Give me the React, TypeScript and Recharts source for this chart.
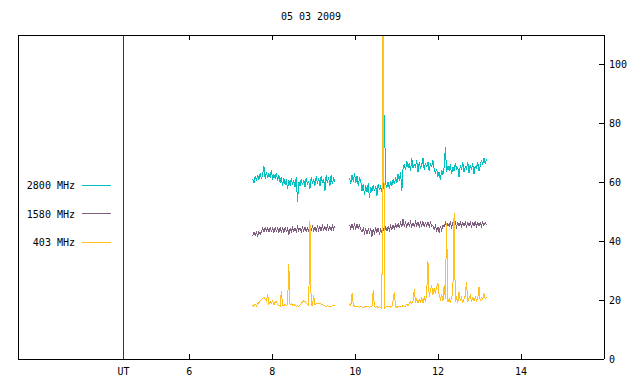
import { Legend, Line, LineChart, ReferenceLine, XAxis, YAxis } from "recharts";

const FONT = "'DejaVu Sans Mono', monospace";

// sampling of the two observing runs (UT hours)
const SAMPLE_STEP = 0.03;
const RUN1_START = 7.53;
const RUN2_START = 9.865;
const GAP_HOUR = 9.7;

const UT_HOUR = 4.414;
const xTicks = [UT_HOUR, 6, 8, 10, 12, 14];
const yTicks = [0, 20, 40, 60, 80, 100];
const seriesOrder = ["2800 MHz", "1580 MHz", "403 MHz"];

// 2800 MHz
const f2800Run1 = [
  61.2, 59.8, 62.0, 60.5, 62.4, 60.9, 63.1, 61.0, 62.8, 65.5,
  61.2, 63.6, 61.4, 63.0, 61.8, 64.0, 60.9, 62.7, 61.3, 63.2,
  60.4, 62.5, 59.8, 61.9, 58.7, 61.4, 59.2, 61.0, 57.6, 60.8,
  58.9, 61.3, 59.1, 60.6, 58.4, 61.7, 53.4, 60.2, 58.8, 61.1,
  59.0, 60.9, 58.3, 61.5, 59.4, 60.2, 57.9, 61.6, 59.6, 61.0,
  58.7, 62.0, 59.5, 61.4, 58.6, 62.1, 59.9, 61.2, 56.9, 62.3,
  59.7, 61.8, 58.8, 62.4, 59.3, 61.6, 60.1,
];
const f2800Run2 = [
  61.5, 59.4, 62.6, 60.1, 63.0, 59.8, 62.2, 58.6, 61.7, 60.4,
  57.2, 59.3, 55.8, 58.9, 56.6, 59.7, 54.6, 58.4, 56.9, 59.1,
  57.0, 58.8, 55.4, 59.5, 57.3, 58.6, 56.8, 57.9,
  83.0, 59.6, 58.2, 60.1, 57.6, 60.4, 58.9, 61.0, 59.3,
  61.6, 59.8, 62.9, 60.5, 63.4, 56.9, 64.8,
  66.2, 64.1, 67.3, 65.0, 66.4, 63.9, 68.1, 64.8, 66.0, 65.3,
  67.5, 63.6, 66.7, 64.9, 65.8, 68.3, 64.2, 66.6, 65.1, 67.0,
  63.8, 66.3, 65.4, 67.4, 64.5,
  62.8, 64.6, 61.9, 63.5, 60.7, 64.2, 62.6, 64.9,
  71.8,
  63.4, 65.6, 64.0, 66.2, 62.7, 65.3, 63.9, 66.5, 64.4, 65.0,
  61.8, 65.7, 64.1, 66.8, 63.5, 65.2, 64.6, 67.0, 63.2, 65.9,
  64.3, 66.4, 62.9, 65.5, 64.8, 66.9, 63.7,
  65.4, 67.6, 65.9, 68.2, 66.3, 67.8,
];

// 1580 MHz
const f1580Run1 = [
  41.8, 43.0, 42.0, 43.1, 41.9, 43.2, 42.3,
  43.3, 44.6, 43.2, 44.8, 43.5, 44.5, 43.1, 44.7, 43.4, 44.4, 43.0, 44.6, 43.3,
  44.4, 43.0, 44.6, 43.2, 44.5, 42.9, 44.7, 43.3, 44.4, 42.3,
  44.3, 43.1, 44.6, 43.4, 44.5, 43.2, 44.8, 43.5, 44.4, 43.1,
  44.6, 43.3, 44.9, 43.2, 44.4, 43.5, 44.8, 43.6, 45.0, 43.5,
  44.7, 43.3, 45.1, 43.7, 44.9, 43.4, 45.2, 43.8, 44.9, 43.6,
  45.3, 43.9, 45.0, 43.7, 45.4, 44.0, 45.1,
];
const f1580Run2 = [
  45.6, 44.2, 45.8, 44.3, 45.6, 44.1, 45.7, 44.4, 45.5, 43.9,
  43.0, 44.5, 42.8, 44.3, 42.5, 44.2, 42.9, 44.4, 41.6, 44.0,
  42.7, 44.3, 43.0, 44.5, 42.3, 44.1, 42.9, 44.4,
  43.2, 44.7, 43.5, 44.9, 43.7, 45.2, 43.9, 45.4, 44.2, 45.7,
  44.5, 45.9, 44.7,
  46.2, 44.8, 47.5, 45.0, 46.4, 44.9, 46.3, 45.1, 46.5, 44.8,
  46.2, 45.0, 46.6, 45.2, 46.4, 44.9, 46.3, 45.1, 46.7, 45.0,
  46.2, 45.2, 46.5, 44.8, 46.3, 45.1,
  45.3, 43.9, 45.2, 43.5, 44.9, 42.8, 45.0, 43.7, 45.4,
  44.9, 46.3, 44.7, 46.1, 45.0, 46.4, 44.8, 46.2, 45.1, 46.5,
  44.9, 46.3, 45.2, 46.6, 45.0, 46.2, 45.1, 46.4, 44.9, 46.3,
  45.2, 46.5, 45.0, 46.2, 45.3, 46.6, 45.1, 46.3, 45.2, 46.4,
  45.1, 46.5, 45.3, 46.3, 45.4,
];

// 403 MHz
const f403Run1 = [
  18.3, 17.9, 18.6, 18.1, 18.8,
  19.2, 19.8, 20.3, 20.6, 20.9, 20.4, 19.7, 22.0,
  18.6, 19.5, 18.9, 19.8, 18.4, 19.3, 19.6, 18.5, 18.2, 18.0,
  23.0,
  18.3, 18.1, 18.5, 18.2, 18.6,
  32.4,
  18.4, 18.7, 18.3, 18.5, 18.2, 17.9, 18.1, 17.8, 18.3, 18.9,
  19.4, 19.8, 19.5, 19.0, 18.6, 18.2,
  46.8,
  18.0, 18.3, 21.7, 18.4, 18.7, 18.9, 19.0, 18.8, 18.6, 18.4,
  18.2, 18.0, 17.9, 18.1, 17.8, 18.0, 17.9, 18.1, 18.0, 18.2,
];
const f403Run2 = [
  18.6, 18.2, 22.3,
  18.4, 18.0, 17.8, 17.7, 17.9, 17.6, 17.8, 17.7, 17.5, 17.8,
  17.6, 17.7, 17.9, 17.6, 17.8, 17.7,
  23.4,
  17.7, 17.6, 17.8, 17.5, 17.7, 17.6, 17.2,
  150,
  17.1, 17.6, 17.8, 17.7, 17.9, 17.6, 17.8, 20.0,
  22.7,
  17.8, 17.6, 17.7, 17.9, 17.7, 17.8, 18.3, 17.9, 18.0, 18.6,
  18.2, 18.9, 19.4, 18.8, 19.6,
  23.6,
  19.2, 20.4, 18.9, 20.1, 19.3, 20.6, 19.0, 21.2, 19.5,
  22.4, 33.2,
  21.0, 23.4, 25.0, 21.8, 23.9, 22.2, 24.6, 25.7, 21.5, 20.3,
  22.0, 19.6,
  25.0, 20.4, 46.2,
  19.3, 20.6, 19.1, 21.0, 22.3,
  49.7,
  19.4, 20.8, 19.2, 22.8, 19.6, 20.9, 19.0, 20.5, 21.4,
  26.2,
  19.5, 20.7, 21.7, 19.4, 20.8, 19.6, 21.1, 19.8, 20.6, 24.5,
  19.7, 20.9, 20.2, 22.3, 20.4, 21.0,
];

type Row = { t: number; f2800: number | null; f1580: number | null; f403: number | null };

function buildRows(): Row[] {
  const rows: Row[] = [];
  f2800Run1.forEach((v, i) => {
    rows.push({ t: RUN1_START + i * SAMPLE_STEP, f2800: v, f1580: f1580Run1[i], f403: f403Run1[i] });
  });
  // break the lines between the two runs
  rows.push({ t: GAP_HOUR, f2800: null, f1580: null, f403: null });
  f2800Run2.forEach((v, i) => {
    rows.push({ t: RUN2_START + i * SAMPLE_STEP, f2800: v, f1580: f1580Run2[i], f403: f403Run2[i] });
  });
  return rows;
}

const rows = buildRows();

function BottomTick({ x, y, payload }: any) {
  const isUT = payload.value === UT_HOUR;
  return (
    <g>
      {!isUT && <line x1={x} y1={y} x2={x} y2={y - 5} stroke="#000" />}
      <text x={x} y={y + 16} textAnchor="middle" fontFamily={FONT} fontSize={10} fill="#000">
        {isUT ? "UT" : payload.value}
      </text>
    </g>
  );
}

function TopTick({ x, y }: any) {
  return <line x1={x} y1={y} x2={x} y2={y + 5} stroke="#000" />;
}

function RightTick({ x, y, payload }: any) {
  return (
    <g>
      <line x1={x} y1={y} x2={x - 5} y2={y} stroke="#000" />
      <text x={x + 5} y={y + 4} textAnchor="start" fontFamily={FONT} fontSize={10} fill="#000">
        {payload.value}
      </text>
    </g>
  );
}

function renderLegend({ payload }: any) {
  const items = [...(payload ?? [])].sort(
    (a: any, b: any) => seriesOrder.indexOf(a.value) - seriesOrder.indexOf(b.value)
  );
  return (
    <svg width={120} height={90} style={{ shapeRendering: "crispEdges" }}>
      {items.map((item: any, i: number) => {
        const cy = 15 + i * 28.6;
        return (
          <g key={item.value}>
            <text x={75} y={cy + 4} textAnchor="end" fontFamily={FONT} fontSize={10} fill="#000">
              {item.value}
            </text>
            <line x1={82} y1={cy} x2={111} y2={cy} stroke={item.color} />
          </g>
        );
      })}
    </svg>
  );
}

export default function App() {
  return (
    <div style={{ position: "absolute", left: 0, top: 0, width: 640, height: 384 }}>
      <div
        style={{
          position: "absolute",
          left: 0,
          top: 11,
          width: 622,
          textAlign: "center",
          fontFamily: FONT,
          fontSize: 10,
          lineHeight: "12px",
        }}
      >
        05 03 2009
      </div>
      <LineChart
        width={640}
        height={384}
        data={rows}
        margin={{ top: 34, right: 35, bottom: 24, left: 17 }}
        style={{ shapeRendering: "crispEdges" }}
      >
        <XAxis
          xAxisId="b"
          type="number"
          dataKey="t"
          domain={[1.87, 16]}
          ticks={xTicks}
          allowDataOverflow
          height={1}
          tickSize={0}
          tickMargin={0}
          tickLine={false}
          axisLine={{ stroke: "#000" }}
          tick={<BottomTick />}
          interval={0}
        />
        <XAxis
          xAxisId="t"
          orientation="top"
          type="number"
          dataKey="t"
          domain={[1.87, 16]}
          ticks={xTicks.slice(1)}
          allowDataOverflow
          height={1}
          tickSize={0}
          tickMargin={0}
          tickLine={false}
          axisLine={{ stroke: "#000" }}
          tick={<TopTick />}
          interval={0}
        />
        <YAxis
          yAxisId="r"
          orientation="right"
          type="number"
          domain={[0, 110]}
          ticks={yTicks}
          allowDataOverflow
          width={1}
          tickSize={0}
          tickMargin={0}
          tickLine={false}
          axisLine={{ stroke: "#000" }}
          tick={<RightTick />}
          interval={0}
        />
        <YAxis
          yAxisId="l"
          orientation="left"
          type="number"
          domain={[0, 110]}
          width={1}
          tick={false}
          tickLine={false}
          axisLine={{ stroke: "#000" }}
        />
        <ReferenceLine xAxisId="b" yAxisId="r" x={UT_HOUR} stroke="#b00000" strokeWidth={1} />
        <Legend
          content={renderLegend}
          layout="horizontal"
          verticalAlign="middle"
          align="center"
          wrapperStyle={{ position: "absolute", left: 0, top: 170, width: 120, height: 90 }}
        />
        <Line
          xAxisId="b"
          yAxisId="r"
          dataKey="f2800"
          name="2800 MHz"
          stroke="#00c0c0"
          strokeWidth={1}
          dot={false}
          type="linear"
          isAnimationActive={false}
        />
        <Line
          xAxisId="b"
          yAxisId="r"
          dataKey="f1580"
          name="1580 MHz"
          stroke="#806080"
          strokeWidth={1}
          dot={false}
          type="linear"
          isAnimationActive={false}
        />
        <Line
          xAxisId="b"
          yAxisId="r"
          dataKey="f403"
          name="403 MHz"
          stroke="#ffc020"
          strokeWidth={1}
          dot={false}
          type="linear"
          isAnimationActive={false}
        />
      </LineChart>
    </div>
  );
}
